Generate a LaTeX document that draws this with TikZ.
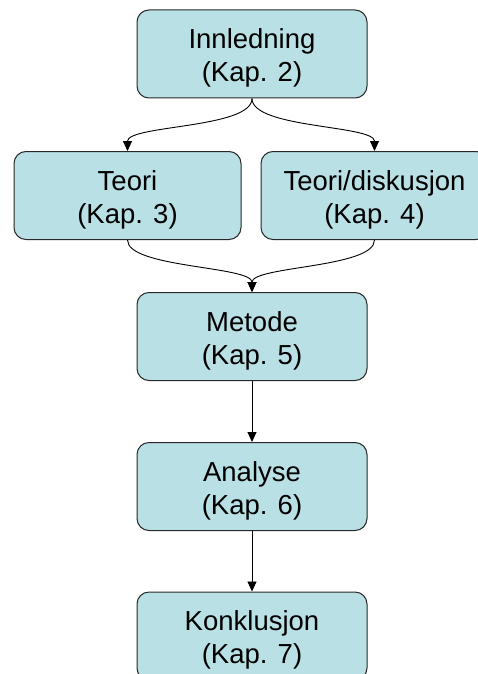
\documentclass[tikz,border=0pt]{standalone}
\usepackage{fontspec}
\setmainfont{Liberation Sans}
\usetikzlibrary{arrows.meta}
\definecolor{boxfill}{RGB}{185,224,228}
\definecolor{boxline}{RGB}{40,40,40}
% invisible rule that lowers the two-line label inside its box
\newcommand\lowerby{\rule{0pt}{28.5pt}}
\tikzset{
  chapter/.style={draw=boxline, line width=1pt, fill=boxfill, rounded corners=12pt,
    minimum width=230pt, minimum height=88pt, inner sep=0pt, align=center,
    font=\fontsize{27.5}{33}\selectfont},
  flow/.style={line width=0.9pt, -{Triangle[length=10pt,width=9pt]}}
}
\begin{document}
\begin{tikzpicture}[x=1pt, y=-1pt]
  \useasboundingbox (0,0) rectangle (478,674);
  \clip (0,0) rectangle (478,674);
  \node[chapter] (innl) at (252,54) {\lowerby Innledning\\(Kap. 2)};
  \node[chapter, minimum width=227pt] (teori) at (127.5,195.5) {\lowerby Teori\\(Kap. 3)};
  \node[chapter, minimum width=227pt] (disk) at (374.5,195.5) {\lowerby Teori/diskusjon\\(Kap. 4)};
  \node[chapter] (metode) at (252,336.5) {\lowerby Metode\\(Kap. 5)};
  \node[chapter] (analyse) at (252,486.5) {\lowerby Analyse\\(Kap. 6)};
  \node[chapter] (konkl) at (252,636) {\lowerby Konklusjon\\(Kap. 7)};
  \draw[flow] (innl.south) .. controls +(0,30) and +(0,-26) .. (teori.north);
  \draw[flow] (innl.south) .. controls +(0,30) and +(0,-26) .. (disk.north);
  \draw[flow] (teori.south) .. controls +(0,28) and +(0,-26) .. (metode.north);
  \draw[flow] (disk.south) .. controls +(0,28) and +(0,-26) .. (metode.north);
  \draw[flow] (metode) -- (analyse);
  \draw[flow] (analyse) -- (konkl);
\end{tikzpicture}
\end{document}
